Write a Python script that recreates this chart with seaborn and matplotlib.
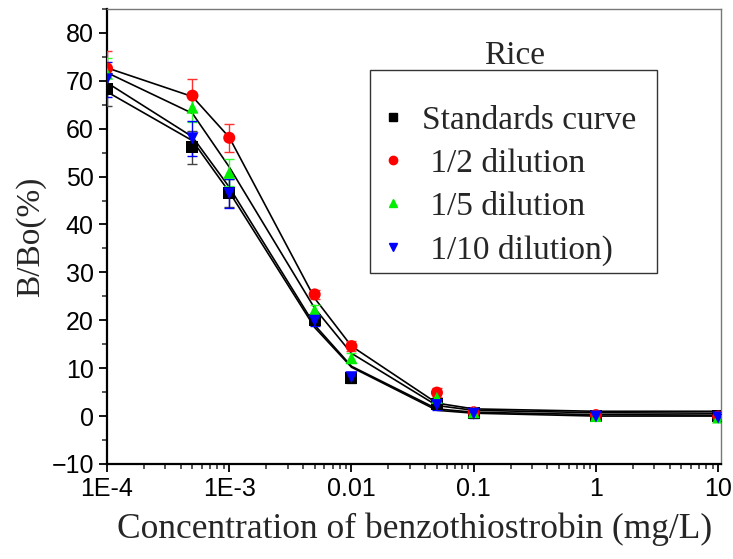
import numpy as np
import pandas as pd
import matplotlib
matplotlib.use("Agg")
import matplotlib.pyplot as plt
import seaborn as sns
from matplotlib.lines import Line2D
from matplotlib.ticker import MultipleLocator, LogLocator, NullFormatter, FixedLocator, FixedFormatter

# ---- data ----
conc = [1e-4, 5e-4, 1e-3, 5e-3, 0.01, 0.05, 0.1, 1, 10]

std_vals = [68.2, 56.1, 46.6, 20.0, 8.0, 2.5, 0.6, 0.0, 0.0]
std_err = [3.5, 3.5, 3.0, 1.0, 1.0, 1.0, 0.8, 0.8, 0.8]
d2_vals = [72.6, 66.9, 58.1, 25.4, 14.6, 4.9, 0.8, 0.2, -0.1]
d2_err = [3.7, 3.4, 2.9, 1.0, 1.0, 1.0, 0.8, 0.8, 0.8]
d5_vals = [71.5, 64.4, 50.8, 22.1, 12.1, 3.8, 0.8, 0.0, -0.3]
d5_err = [3.3, 3.0, 2.8, 1.0, 1.0, 1.0, 0.8, 0.8, 0.8]
d10_vals = [70.3, 58.0, 46.5, 19.9, 8.1, 2.3, 0.5, -0.1, -0.3]
d10_err = [3.6, 3.6, 3.0, 1.0, 1.0, 1.0, 0.8, 0.8, 0.8]

# fitted curves
std_fit = [67.7, 57.5, 46.8, 18.5, 10.2, 1.2, 0.6, 0.0, 0.0]
d2_fit = [72.7, 66.7, 58.2, 24.6, 14.6, 2.7, 1.5, 1.0, 1.0]
d5_fit = [71.7, 63.2, 52.0, 22.5, 13.1, 2.2, 1.2, 0.7, 0.6]
d10_fit = [69.6, 58.3, 47.8, 19.0, 10.4, 1.5, 0.8, 0.3, 0.2]

series_names = ["Standards curve", " 1/2 dilution", " 1/5 dilution", " 1/10 dilution)"]
xtick_vals = [1e-4, 1e-3, 0.01, 0.1, 1, 10]
xtick_labels = ["1E-4", "1E-3", "0.01", "0.1", "1", "10"]
ytick_vals = [-10, 0, 10, 20, 30, 40, 50, 60, 70, 80]

colors = ["black", "#ff0000", "#00ee00", "#0000ff"]
ecolors = ["#444444", "#ff3030", "#30ff30", "#0000ff"]
markers = ["s", "o", "^", "v"]

vals_all = [std_vals, d2_vals, d5_vals, d10_vals]
errs_all = [std_err, d2_err, d5_err, d10_err]
fits_all = [std_fit, d2_fit, d5_fit, d10_fit]

df = pd.DataFrame({
    "conc": conc * 4,
    "val": sum(vals_all, []),
    "series": sum([[n] * len(conc) for n in series_names], []),
})
fit_df = pd.DataFrame({
    "conc": conc * 4,
    "val": sum(fits_all, []),
    "series": sum([[n] * len(conc) for n in series_names], []),
})

sns.set_style("ticks")
serif = ["Liberation Serif", "DejaVu Serif"]
sans = ["Liberation Sans", "DejaVu Sans"]
plt.rcParams["font.family"] = sans

fig = plt.figure(figsize=(7.33, 5.59), dpi=100)
ax = fig.add_axes([0.146, 0.170, 0.838, 0.814])

sns.lineplot(data=fit_df, x="conc", y="val", units="series", estimator=None,
             color="black", lw=1.2, ax=ax, legend=False, zorder=2)

for v, e, c in zip(vals_all, errs_all, ecolors):
    ax.errorbar(conc, v, yerr=e, fmt="none", ecolor=c, elinewidth=1.0,
                capsize=3.5, capthick=1.0, zorder=3)

sns.scatterplot(data=df, x="conc", y="val", hue="series", style="series",
                palette=dict(zip(series_names, colors)),
                markers=dict(zip(series_names, markers)),
                s=75, edgecolor="none", ax=ax, legend=False, zorder=4)

ax.set_xscale("log")
ax.set_xlim(1e-4, 10.6)
ax.set_ylim(-10, 85)
ax.xaxis.set_major_locator(FixedLocator(xtick_vals))
ax.xaxis.set_major_formatter(FixedFormatter(xtick_labels))
ax.xaxis.set_minor_locator(LogLocator(base=10, subs=np.arange(2, 10)))
ax.xaxis.set_minor_formatter(NullFormatter())
ax.set_yticks(ytick_vals)
ax.yaxis.set_minor_locator(MultipleLocator(5))

ax.tick_params(axis="both", which="major", direction="out", length=6, width=1.3,
               labelsize=18, colors="black")
ax.tick_params(axis="both", which="minor", direction="out", length=3.5, width=1.1)

for s in ["left", "bottom"]:
    ax.spines[s].set_linewidth(1.6)
    ax.spines[s].set_color("black")
for s in ["top", "right"]:
    ax.spines[s].set_visible(True)
    ax.spines[s].set_linewidth(1.0)
    ax.spines[s].set_color("#777777")

ax.set_xlabel("Concentration of benzothiostrobin (mg/L)", fontsize=25.5, family=serif, labelpad=8)
ax.set_ylabel("B/Bo(%)", fontsize=24, family=serif, labelpad=4)

handles = [Line2D([0], [0], marker=m, color=c, linestyle="none", markersize=6)
           for m, c in zip(markers, colors)]
leg = ax.legend(handles, series_names, loc="upper left",
                bbox_to_anchor=(0.428, 0.0, 0.468, 0.866), mode="expand",
                frameon=True, fancybox=False, edgecolor="#333333", framealpha=1,
                title=" ", prop={"family": serif, "size": 24},
                title_fontproperties={"family": serif, "size": 12},
                handlelength=1.0, handletextpad=0.35, labelspacing=0.38,
                borderpad=0.2, borderaxespad=0)
leg.get_frame().set_linewidth(1.0)

ax.text(0.664, 0.898, "Rice", transform=ax.transAxes, ha="center", va="center",
        fontsize=24, family=serif)

fig.savefig("out.png", dpi=100)
